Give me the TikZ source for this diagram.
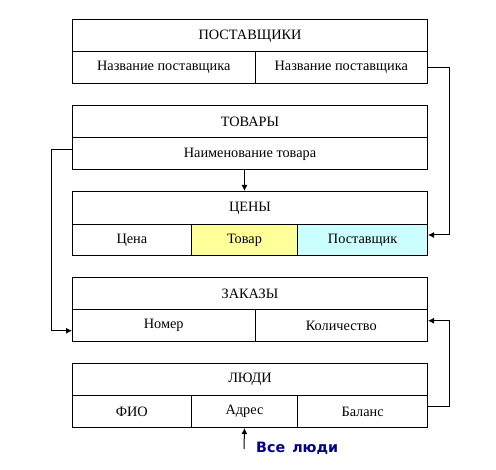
\documentclass[tikz,border=0pt]{standalone}
\usepackage{fontspec}
\setmainfont{Liberation Serif}
\newfontfamily\labfont{DejaVu Sans}
\usetikzlibrary{arrows.meta}
\definecolor{cellyellow}{RGB}{255,255,153}
\definecolor{cellcyan}{RGB}{204,255,255}
\definecolor{labblue}{RGB}{0,0,140}
\begin{document}
\begin{tikzpicture}[x=1pt,y=-1pt,
  cell/.style={draw=black, line width=1pt, anchor=north west, inner sep=0pt,
    font=\fontsize{14.3}{16}\selectfont},
  arr/.style={line width=1pt, -{Latex[length=6pt,width=6pt]}}]
\useasboundingbox (0,0) rectangle (496,470);
% ПОСТАВЩИКИ
\node[cell, minimum width=355pt, minimum height=32pt] (post) at (72,19.5) {ПОСТАВЩИКИ};
\node[cell, minimum width=182.5pt, minimum height=31.5pt] (post1) at (72,51.5) {Название поставщика};
\node[cell, minimum width=172.5pt, minimum height=31.5pt] (post2) at (254.5,51.5) {Название поставщика};
% ТОВАРЫ
\node[cell, minimum width=355pt, minimum height=32pt] (tov) at (72,105.5) {ТОВАРЫ};
\node[cell, minimum width=355pt, minimum height=32pt] (tov2) at (72,137.5) {Наименование товара};
% ЦЕНЫ
\node[cell, minimum width=355pt, minimum height=33pt] (cen) at (72,191) {ЦЕНЫ};
\node[cell, minimum width=118.7pt, minimum height=31pt] (cen1) at (72,224) {Цена};
\node[cell, fill=cellyellow, minimum width=106.6pt, minimum height=31pt] (cen2) at (190.7,224) {Товар};
\node[cell, fill=cellcyan, minimum width=129.7pt, minimum height=31pt] (cen3) at (297.3,224) {Поставщик};
% ЗАКАЗЫ
\node[cell, minimum width=355pt, minimum height=32pt] (zak) at (72,277.5) {ЗАКАЗЫ};
\node[cell, minimum width=182.5pt, minimum height=31.5pt] (zak1) at (72,309.5) {Номер};
\node[cell, minimum width=172.5pt, minimum height=31.5pt] (zak2) at (254.5,309.5) {Количество};
% ЛЮДИ
\node[cell, minimum width=355pt, minimum height=31.5pt] (lud) at (72,363.5) {ЛЮДИ};
\node[cell, minimum width=118.7pt, minimum height=32pt] (lud1) at (72,395) {ФИО};
\node[cell, minimum width=106.6pt, minimum height=32pt] (lud2) at (190.7,395) {Адрес};
\node[cell, minimum width=129.7pt, minimum height=32pt] (lud3) at (297.3,395) {Баланс};
% label
\node[anchor=base west, inner sep=0pt, text=labblue, font=\labfont\bfseries\fontsize{14.3}{16}\selectfont] (all) at (256,452.5) {Все\hspace{7pt}люди};
\coordinate (allarrow) at (244,449);
% connectors
\draw[arr] (post2.east) -- ++(21,0) |- ([yshift=5pt]cen3.east);
\draw[arr] ([xshift=-5.5pt]tov2.south) -- ([xshift=-5.5pt]cen.north);
\draw[arr] ([yshift=4pt]tov2.west) -- ++(-20.5,0) |- ([yshift=-5pt]zak2.west -| zak1.west);
\draw[arr] ([yshift=5pt]lud3.east) -- ++(21,0) |- ([yshift=5pt]zak2.east);
\draw[arr] (allarrow) -- (lud2.south);
\end{tikzpicture}
\end{document}
